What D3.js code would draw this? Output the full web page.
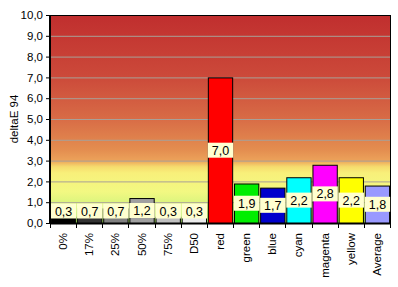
<!DOCTYPE html>
<html><head><meta charset="utf-8">
<script src="https://cdn.jsdelivr.net/npm/d3@7"></script>
<style>body{margin:0;background:#fff;}svg{display:block;font-family:Arial,"Liberation Sans",sans-serif;}</style>
</head><body>
<svg id="c" width="398" height="287"></svg>
<script>
const categories = ["0%","17%","25%","50%","75%","D50","red","green","blue","cyan","magenta","yellow","Average"];
const values = [0.3,0.7,0.7,1.2,0.3,0.3,7.0,1.9,1.7,2.2,2.8,2.2,1.8];
const barColors = ["#000000","#333333","#808080","#a0a0a0","#c0c0c0","#ececec","#ff0000","#00ee00","#0000cc","#00ffff","#ff00ff","#ffff00","#9999ff"];
const yTicks = [0,1,2,3,4,5,6,7,8,9,10];
const yTitle = "deltaE 94";

const svg = d3.select("#c");
const m = {l:50, t:15, r:8, b:64};
const W = 398 - m.l - m.r, H = 287 - m.t - m.b;
const g = svg.append("g").attr("transform", `translate(${m.l},${m.t})`);
const x = d3.scaleBand().domain(categories).range([0, W]).paddingInner(0.07).paddingOuter(0.035);
const y = d3.scaleLinear().domain([0, 10]).range([H, 0]);
const fmt = v => d3.format(".1f")(v).replace(".", ",");

// gradient background
const defs = svg.append("defs");
const grad = defs.append("linearGradient").attr("id","bg").attr("x1",0).attr("y1",0).attr("x2",0).attr("y2",1);
[[0,"#c02e2e"],[0.3,"#cc4a3a"],[0.5,"#d86c46"],[0.65,"#e48e50"],[0.7,"#eca25a"],[0.73,"#f6dc6e"],[0.76,"#f8f07a"],[0.85,"#f2f882"],[0.92,"#d4f47c"],[1,"#a8e864"]]
  .forEach(([o,c]) => grad.append("stop").attr("offset",o).attr("stop-color",c));
g.append("rect").attr("width",W).attr("height",H).attr("fill","url(#bg)");

// gridlines
g.selectAll(".grid").data(yTicks.slice(1,-1)).join("line")
  .attr("x1",0).attr("x2",W).attr("y1",d=>y(d)+0.5).attr("y2",d=>y(d)+0.5)
  .attr("stroke","#a8a098").attr("stroke-width",1);

// bars
g.selectAll(".bar").data(values).join("rect")
  .attr("x",(d,i)=>x(categories[i])+0.5).attr("width",x.bandwidth())
  .attr("y",d=>y(d)+0.5).attr("height",d=>H-y(d))
  .attr("fill",(d,i)=>barColors[i]).attr("stroke","#000").attr("stroke-width",1);

// plot border
g.append("rect").attr("x",0.5).attr("y",0.5).attr("width",W).attr("height",H)
  .attr("fill","none").attr("stroke","#000").attr("stroke-width",1);

// labels
const lab = g.selectAll(".lab").data(values).join("g")
  .attr("transform",(d,i)=>`translate(${x(categories[i])+x.bandwidth()/2+0.5},${Math.min(y(d/2), H-12)})`);
lab.each(function(d){
  const s = d3.select(this);
  const t = s.append("text").attr("text-anchor","middle").attr("dy","0.36em")
    .attr("font-size",12.5).attr("fill","#000").text(fmt(d));
  const w = t.node().getComputedTextLength();
  s.insert("rect","text").attr("x",-w/2-4).attr("y",-7.5).attr("width",w+8).attr("height",15).attr("fill","#ffffd0");
});

// axes
const yAx = g.append("g").call(d3.axisLeft(y).tickValues(yTicks).tickFormat(fmt).tickSize(4).tickPadding(3));
yAx.select(".domain").remove();
yAx.selectAll("text").attr("font-size",11.5).attr("font-family","Arial,'Liberation Sans',sans-serif").attr("fill","#000");
yAx.selectAll("line").attr("stroke","#000");
g.append("line").attr("x1",0).attr("x2",0).attr("y1",0).attr("y2",H+1).attr("stroke","#000").attr("stroke-width",2);
g.append("line").attr("x1",0).attr("x2",W+1).attr("y1",H+0.5).attr("y2",H+0.5).attr("stroke","#000").attr("stroke-width",2);

// x ticks at boundaries
const xAx = g.append("g").attr("transform",`translate(0,${H})`);
xAx.selectAll("line").data(d3.range(categories.length+1)).join("line")
  .attr("x1",i=>Math.round(i*W/categories.length)+0.5).attr("x2",i=>Math.round(i*W/categories.length)+0.5)
  .attr("y1",0).attr("y2",5).attr("stroke","#000");
xAx.selectAll("text").data(categories).join("text")
  .attr("transform",d=>`translate(${x(d)+x.bandwidth()/2+4},10) rotate(-90)`)
  .attr("text-anchor","end").attr("font-size",11.5).attr("fill","#000").text(d=>d);

// y title
svg.append("text").attr("transform",`translate(18,${m.t+H/2}) rotate(-90)`)
  .attr("text-anchor","middle").attr("font-size",11.5).attr("fill","#000").text(yTitle);
</script>
</body></html>
